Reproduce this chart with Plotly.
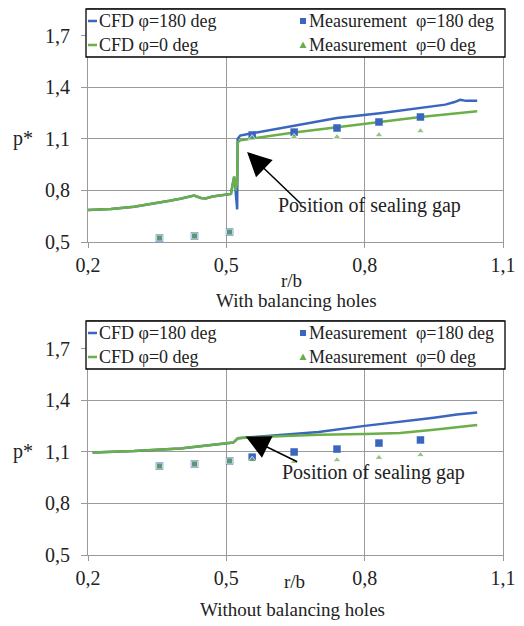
import plotly.graph_objects as go

# ---------------- data ----------------
# With balancing holes (top)
top_cfd_r = [0.20, 0.25, 0.30, 0.35, 0.377, 0.40, 0.43, 0.445, 0.455, 0.47, 0.50, 0.51,
             0.514, 0.517, 0.520, 0.5235, 0.525, 0.53, 0.55, 0.647, 0.74, 0.831, 0.921, 1.044]
top_cfd0_p = [0.686, 0.692, 0.705, 0.725, 0.74, 0.752, 0.77, 0.756, 0.753, 0.765, 0.775, 0.78,
              0.84, 0.88, 0.80, 0.85, 1.08, 1.092, 1.10, 1.138, 1.168, 1.198, 1.228, 1.262]
top_cfd180_r = [0.20, 0.25, 0.30, 0.35, 0.377, 0.40, 0.43, 0.445, 0.455, 0.47, 0.50, 0.51,
                0.514, 0.517, 0.520, 0.5235, 0.5245, 0.53, 0.55, 0.64, 0.74, 0.833, 0.92,
                0.95, 0.975, 0.995, 1.007, 1.02, 1.044]
top_cfd180_p = [0.686, 0.692, 0.705, 0.725, 0.74, 0.752, 0.77, 0.756, 0.753, 0.765, 0.775, 0.78,
                0.84, 0.88, 0.80, 0.69, 1.10, 1.12, 1.13, 1.175, 1.222, 1.25, 1.28,
                1.288, 1.30, 1.315, 1.328, 1.322, 1.322]

meas_r = [0.355, 0.431, 0.507, 0.556, 0.647, 0.740, 0.831, 0.921]
top_meas180 = [0.523, 0.535, 0.558, 1.123, 1.140, 1.164, 1.199, 1.228]
top_meas0 = [0.523, 0.535, 0.558, 1.105, 1.112, 1.112, 1.123, 1.146]

# Without balancing holes (bottom)
bot_cfd0_r = [0.21, 0.30, 0.40, 0.47, 0.50, 0.515, 0.525, 0.55, 0.60, 0.70, 0.80, 0.877, 0.95, 1.00, 1.044]
bot_cfd0_p = [1.097, 1.105, 1.12, 1.14, 1.15, 1.155, 1.18, 1.185, 1.19, 1.20, 1.205, 1.21, 1.23, 1.245, 1.257]
bot_cfd180_r = [0.21, 0.30, 0.40, 0.47, 0.50, 0.515, 0.525, 0.55, 0.60, 0.70, 0.80, 0.877, 0.95, 1.00, 1.044]
bot_cfd180_p = [1.097, 1.105, 1.12, 1.14, 1.15, 1.155, 1.18, 1.185, 1.195, 1.217, 1.252, 1.275, 1.30, 1.318, 1.33]
bot_meas180 = [1.018, 1.030, 1.048, 1.070, 1.100, 1.117, 1.152, 1.170]
bot_meas0 = [1.018, 1.030, 1.048, 1.055, 1.043, 1.053, 1.067, 1.083]

x_ticks = [0.2, 0.5, 0.8, 1.1]
y_ticks = [0.5, 0.8, 1.1, 1.4, 1.7]

series_names = ["CFD φ=180 deg", "CFD φ=0 deg",
                "Measurement\u00a0\u00a0φ=180 deg", "Measurement\u00a0\u00a0φ=0 deg"]

BLUE = "#3A66BE"
GREEN = "#6AAF48"
FONT = "Liberation Serif"
GRID = "#9a9a9a"
TXT = "#222"

W, H = 524, 626

# overlapping measurement points in the inner region appear as green squares
m0_symbols = ["square", "square", "square"] + ["triangle-up"] * 5
m0_sizes = [6, 6, 6] + [7] * 5

fig = go.Figure()

def add_panel(xa, ya, cfd180_r, cfd180_p, cfd0_r, cfd0_p, m180, m0):
    fig.add_trace(go.Scatter(x=cfd180_r, y=cfd180_p, mode="lines", name=series_names[0],
                             line=dict(color=BLUE, width=2.5), xaxis=xa, yaxis=ya))
    fig.add_trace(go.Scatter(x=cfd0_r, y=cfd0_p, mode="lines", name=series_names[1],
                             line=dict(color=GREEN, width=2.5), xaxis=xa, yaxis=ya))
    fig.add_trace(go.Scatter(x=meas_r, y=m180, mode="markers", name=series_names[2],
                             marker=dict(symbol="square", color=BLUE, size=7.5),
                             xaxis=xa, yaxis=ya))
    fig.add_trace(go.Scatter(x=meas_r, y=m0, mode="markers", name=series_names[3],
                             marker=dict(symbol=m0_symbols, color=GREEN, size=m0_sizes),
                             xaxis=xa, yaxis=ya))

add_panel("x", "y", top_cfd180_r, top_cfd180_p, top_cfd_r, top_cfd0_p, top_meas180, top_meas0)
add_panel("x2", "y2", bot_cfd180_r, bot_cfd180_p, bot_cfd0_r, bot_cfd0_p, bot_meas180, bot_meas0)

xdom = [88 / W, 503 / W]

def xaxis(anchor):
    return dict(domain=xdom, anchor=anchor, range=[0.2, 1.1], tickvals=x_ticks,
                tickformat=".1f", showgrid=True, gridcolor=GRID, gridwidth=1,
                showline=True, linecolor=GRID, linewidth=1, mirror=True,
                ticks="outside", ticklen=5, tickcolor=GRID, automargin=False,
                tickfont=dict(family=FONT, size=20, color=TXT), zeroline=False)

def yaxis(anchor, dom, top):
    return dict(domain=dom, anchor=anchor, range=[0.5, top], tickvals=y_ticks,
                tickformat=".1f", showgrid=True, gridcolor=GRID, gridwidth=1,
                showline=True, linecolor=GRID, linewidth=1, mirror=True,
                ticks="outside", ticklen=6, tickcolor=GRID, ticklabelstandoff=7,
                automargin=False,
                tickfont=dict(family=FONT, size=20, color=TXT), zeroline=False)

fig.update_layout(
    width=W, height=H, margin=dict(l=0, r=0, t=0, b=0, autoexpand=False),
    paper_bgcolor="white", plot_bgcolor="white",
    separators=", ",
    font=dict(family=FONT, color=TXT),
    showlegend=False,
    xaxis=xaxis("y"),
    yaxis=yaxis("x", [1 - 242 / H, 1 - 9 / H], 0.5 + 233 / 171.7),
    xaxis2=xaxis("y2"),
    yaxis2=yaxis("x2", [1 - 555 / H, 1 - 321 / H], 0.5 + 234 / 171.7),
)

# ---------- drawn legend boxes (one per panel) ----------
shapes = []
ann = []
lfont = dict(family=FONT, size=18, color=TXT)

def py(p):  # pixel y (from top) -> paper y
    return 1 - p / H

def px(p):
    return p / W

def draw_legend(top):
    bottom = top + 48
    r1, r2 = top + 12, top + 36
    shapes.append(dict(type="rect", xref="paper", yref="paper", x0=px(86), x1=px(505),
                       y0=py(bottom), y1=py(top), fillcolor="white",
                       line=dict(color="black", width=1.3), layer="above"))
    shapes.append(dict(type="line", xref="paper", yref="paper", x0=px(88), x1=px(97),
                       y0=py(r1), y1=py(r1), line=dict(color=BLUE, width=2.5), layer="above"))
    shapes.append(dict(type="line", xref="paper", yref="paper", x0=px(88), x1=px(97),
                       y0=py(r2), y1=py(r2), line=dict(color=GREEN, width=2.5), layer="above"))
    shapes.append(dict(type="rect", xref="paper", yref="paper", x0=px(300), x1=px(306),
                       y0=py(r1 + 3), y1=py(r1 - 3), fillcolor=BLUE, line=dict(width=0),
                       layer="above"))
    shapes.append(dict(type="path", xref="paper", yref="paper",
                       path=f"M {px(299.5)} {py(r2 + 3)} L {px(306.5)} {py(r2 + 3)} L {px(303)} {py(r2 - 3.5)} Z",
                       fillcolor=GREEN, line=dict(width=0), layer="above"))
    ann.append(dict(text=series_names[0], xref="paper", yref="paper", x=px(97), y=py(r1),
                    xanchor="left", yanchor="middle", showarrow=False, font=lfont))
    ann.append(dict(text=series_names[1], xref="paper", yref="paper", x=px(97), y=py(r2),
                    xanchor="left", yanchor="middle", showarrow=False, font=lfont))
    ann.append(dict(text=series_names[2], xref="paper", yref="paper", x=px(307), y=py(r1),
                    xanchor="left", yanchor="middle", showarrow=False, font=lfont))
    ann.append(dict(text=series_names[3], xref="paper", yref="paper", x=px(307), y=py(r2),
                    xanchor="left", yanchor="middle", showarrow=False, font=lfont))

draw_legend(9)
draw_legend(321)

txt = dict(family=FONT, size=20, color=TXT)
cap = dict(family=FONT, size=19, color=TXT)
ann.append(dict(text="p*", xref="paper", yref="y", x=px(12), y=1.1, xanchor="left",
                showarrow=False, font=txt, borderpad=0))
ann.append(dict(text="p*", xref="paper", yref="y2", x=px(12), y=1.1, xanchor="left",
                showarrow=False, font=txt, borderpad=0))
ann.append(dict(text="r/b", xref="paper", yref="paper", x=px(291), y=py(280),
                showarrow=False, font=cap))
ann.append(dict(text="r/b", xref="paper", yref="paper", x=px(294), y=py(594),
                showarrow=False, font=cap))
ann.append(dict(text="With balancing holes", xref="paper", yref="paper", x=px(296), y=py(300),
                showarrow=False, font=cap))
ann.append(dict(text="Without balancing holes", xref="paper", yref="paper", x=px(292), y=py(622),
                showarrow=False, font=cap))
# sealing gap arrows
ann.append(dict(text="", xref="x", yref="y", x=0.545, y=1.024, ax=55, ay=53,
                showarrow=True, arrowhead=2, arrowsize=3.2, arrowwidth=1.5, arrowcolor="black"))
ann.append(dict(text="Position of sealing gap", xref="x", yref="y", x=0.81, y=0.71,
                showarrow=False, font=txt))
ann.append(dict(text="", xref="x2", yref="y2", x=0.542, y=1.19, ax=53, ay=26,
                showarrow=True, arrowhead=2, arrowsize=3.2, arrowwidth=1.5, arrowcolor="black"))
ann.append(dict(text="Position of sealing gap", xref="x2", yref="y2", x=0.82, y=0.978,
                showarrow=False, font=txt))

fig.update_layout(shapes=shapes, annotations=ann)

fig.write_html("out.html")
